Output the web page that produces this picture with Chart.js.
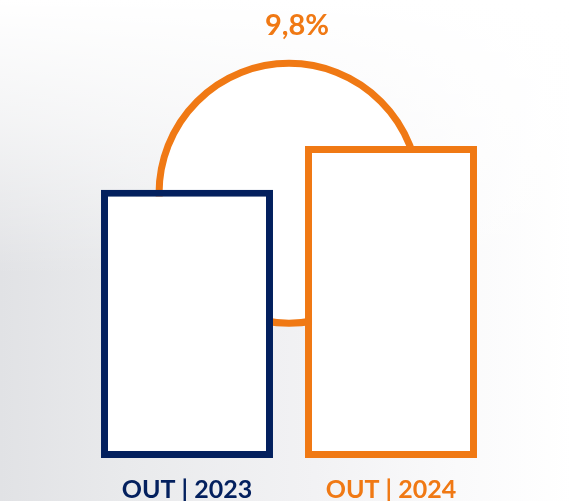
<!DOCTYPE html>
<html>
<head>
<meta charset="utf-8">
<script src="https://cdn.jsdelivr.net/npm/chart.js@4.4.1/dist/chart.umd.min.js"></script>
<style>
  html, body { margin: 0; padding: 0; }
  #wrap {
    width: 572px; height: 501px; position: relative;
    background:
      linear-gradient(to bottom, #ffffff 0%, rgba(255,255,255,0.6) 25%, rgba(255,255,255,0) 55%),
      linear-gradient(to right, #e1e2e5 0%, #e9eaec 22%, #f2f2f4 55%, #fafafb 80%, #ffffff 100%);
  }
</style>
</head>
<body>
<div id="wrap"><canvas id="myChart"></canvas></div>
<script>
var labels = ['OUT | 2023', 'OUT | 2024'];
var values = [100, 109.8];
var colors = ['#03205e', '#f07914'];
var yMin = 40, yMax = 140;

// growth between the two years, shown above the arc
var growth = (values[1] / values[0] - 1) * 100;
var growthLabel = growth.toFixed(1).replace('.', ',') + '%';

var arcPlugin = {
    id: 'arc',
    beforeDatasetsDraw: function (chart) {
        var ctx = chart.ctx;
        var x = chart.scales.x;
        var bars = chart.getDatasetMeta(0).data;
        var x0 = x.getPixelForValue(0), x1 = x.getPixelForValue(1);
        var cx = (x0 + x1) / 2;
        var cy = bars[0].y + 3.5;
        var r = (x1 - x0) * 0.637;
        ctx.save();
        ctx.beginPath();
        ctx.arc(cx, cy, r, 0, Math.PI * 2);
        ctx.fillStyle = '#ffffff';
        ctx.fill();
        ctx.lineWidth = 7;
        ctx.strokeStyle = colors[1];
        ctx.stroke();
        ctx.fillStyle = colors[1];
        ctx.font = 'bold 29px Lato';
        ctx.textAlign = 'center';
        ctx.textBaseline = 'middle';
        ctx.fillText(growthLabel, cx + 8, cy - r - 38);
        ctx.restore();
    }
};

var ctx = document.getElementById('myChart').getContext('2d');
var chart = new Chart(ctx, {
    type: 'bar',
    data: {
        labels: labels,
        datasets: [{
            data: values,
            base: yMin,
            backgroundColor: '#ffffff',
            borderColor: colors,
            borderWidth: 7,
            borderSkipped: false,
            barPercentage: 0.843,
            categoryPercentage: 1
        }]
    },
    options: {
        responsive: true,
        maintainAspectRatio: false,
        animation: false,
        layout: { padding: { left: 85, right: 79, top: 11, bottom: 0 } },
        plugins: {
            legend: { display: false },
            tooltip: { enabled: false }
        },
        scales: {
            y: { display: false, min: yMin, max: yMax },
            x: {
                grid: { display: false, drawTicks: false },
                border: { display: false },
                ticks: {
                    padding: 19,
                    color: function (c) { return colors[c.index]; },
                    font: { family: 'Lato', size: 25, weight: 'bold', lineHeight: 1 }
                },
                afterFit: function (scale) { scale.height = 43; }
            }
        }
    },
    plugins: [arcPlugin]
});
</script>
</body>
</html>
